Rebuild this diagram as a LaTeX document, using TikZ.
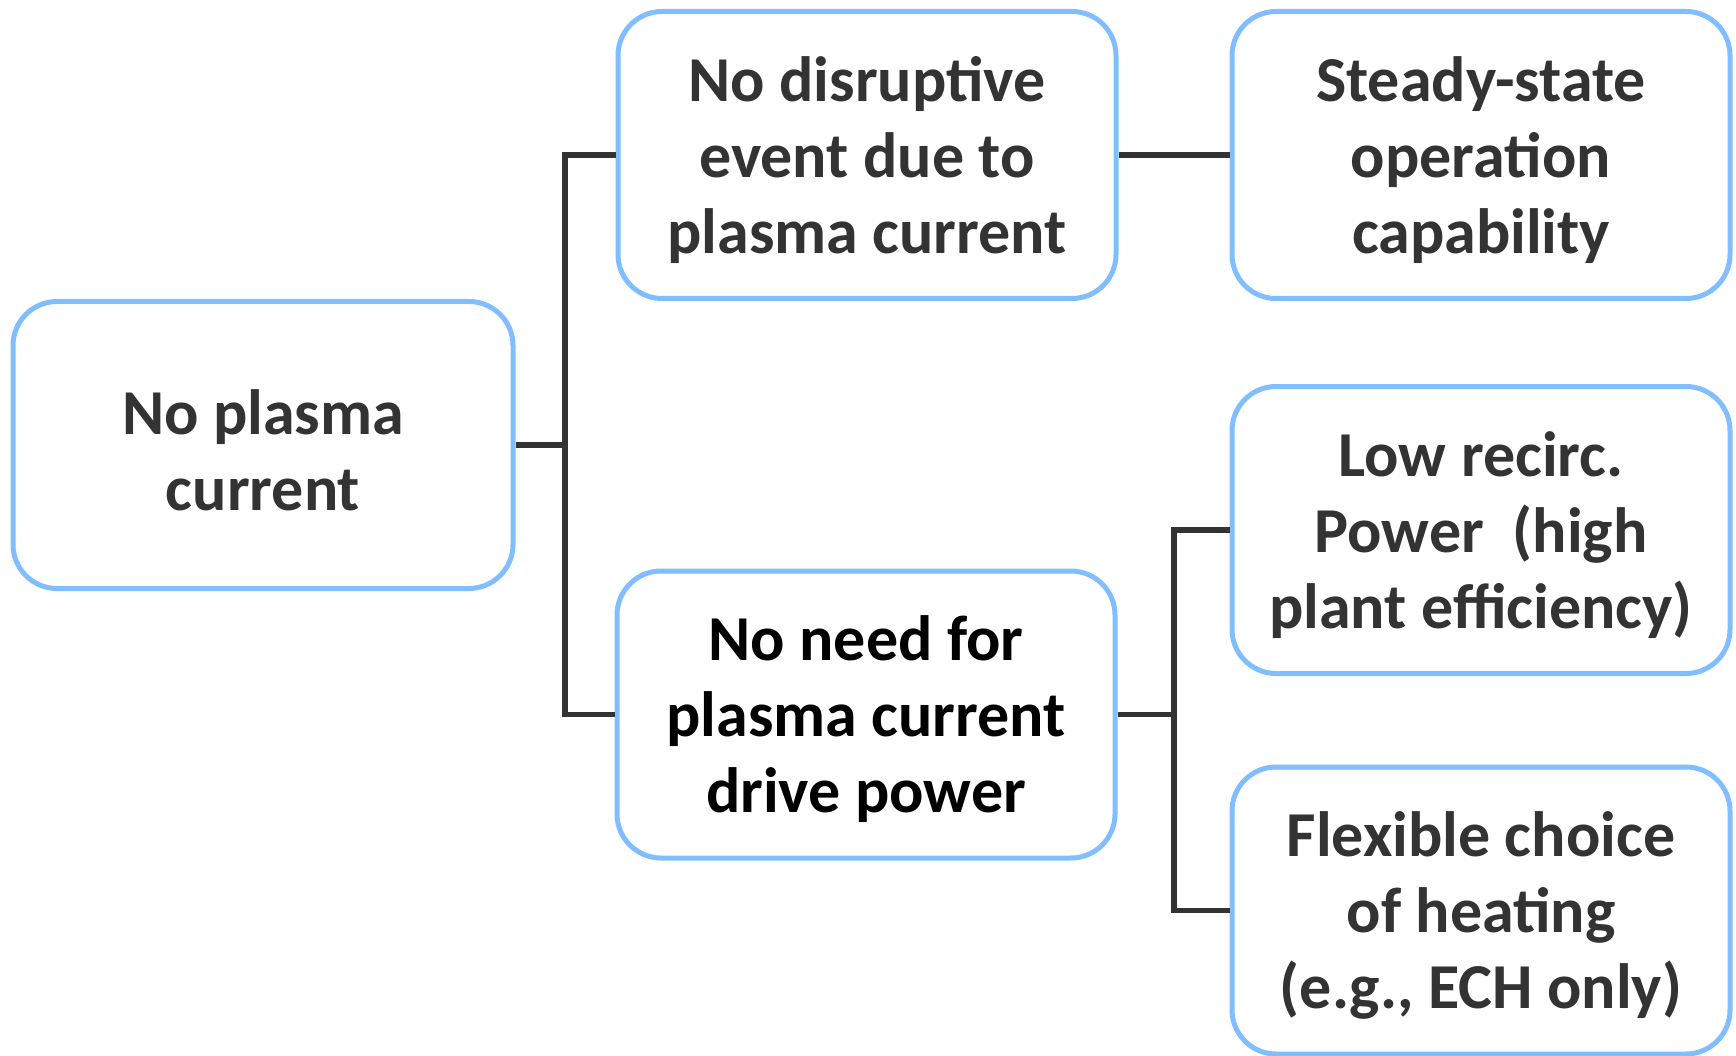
\documentclass[tikz,border=0pt]{standalone}
\usepackage{fontspec}
\setmainfont{Carlito}
\definecolor{boxblue}{RGB}{128,190,255}
\definecolor{txtgray}{RGB}{51,51,51}
\definecolor{linegray}{RGB}{51,51,51}
\begin{document}
\begin{tikzpicture}[x=1pt,y=-1pt,
  box/.style={draw=boxblue, line width=5pt, rounded corners=44pt, fill=white,
    minimum width=498pt, minimum height=287pt, inner sep=0pt},
  lbl/.style={inner sep=0pt, align=center, text=txtgray,
    font=\fontsize{64}{76}\selectfont\bfseries},
  conn/.style={draw=linegray, line width=5.5pt}]
\useasboundingbox (0,0) rectangle (1736,1056);
\node[box, minimum width=500pt] (A) at (263,445) {};
\node[box] (B) at (867,155) {};
\node[box] (C) at (866,714.5) {};
\node[box] (D) at (1481,155) {};
\node[box] (E) at (1481,530) {};
\node[box] (F) at (1481,910.5) {};
\node[lbl] (At) at ([yshift=-5pt]A.center) {No plasma\\current};
\node[lbl] (Bt) at ([yshift=-5pt]B.center) {No disrup\kern0pt tive\\event due to\\plasma current};
\node[lbl, text=black] (Ct) at ([yshift=-5pt]C.center) {No need for\\plasma current\\drive power};
\node[lbl] (Dt) at ([yshift=-5pt]D.center) {Steady-state\\opera\kern0pt tion\\capability};
\node[lbl] (Et) at ([yshift=-5pt]E.center) {Low recirc.\\Power\ \ (high\\plant efficiency)};
\node[lbl] (Ft) at ([yshift=-5pt]F.center) {Flexible choice\\of heating\\(e.g., ECH only)};
\coordinate (J1) at (565,445);
\coordinate (J2) at (1174,714.5);
\draw[conn] (A.east) -- (J1);
\draw[conn] (B.west) -- (B.west -| J1) -- (C.west -| J1) -- (C.west);
\draw[conn] (B.east) -- (D.west);
\draw[conn] (C.east) -- (J2);
\draw[conn] (E.west) -- (E.west -| J2) -- (F.west -| J2) -- (F.west);
\end{tikzpicture}
\end{document}
